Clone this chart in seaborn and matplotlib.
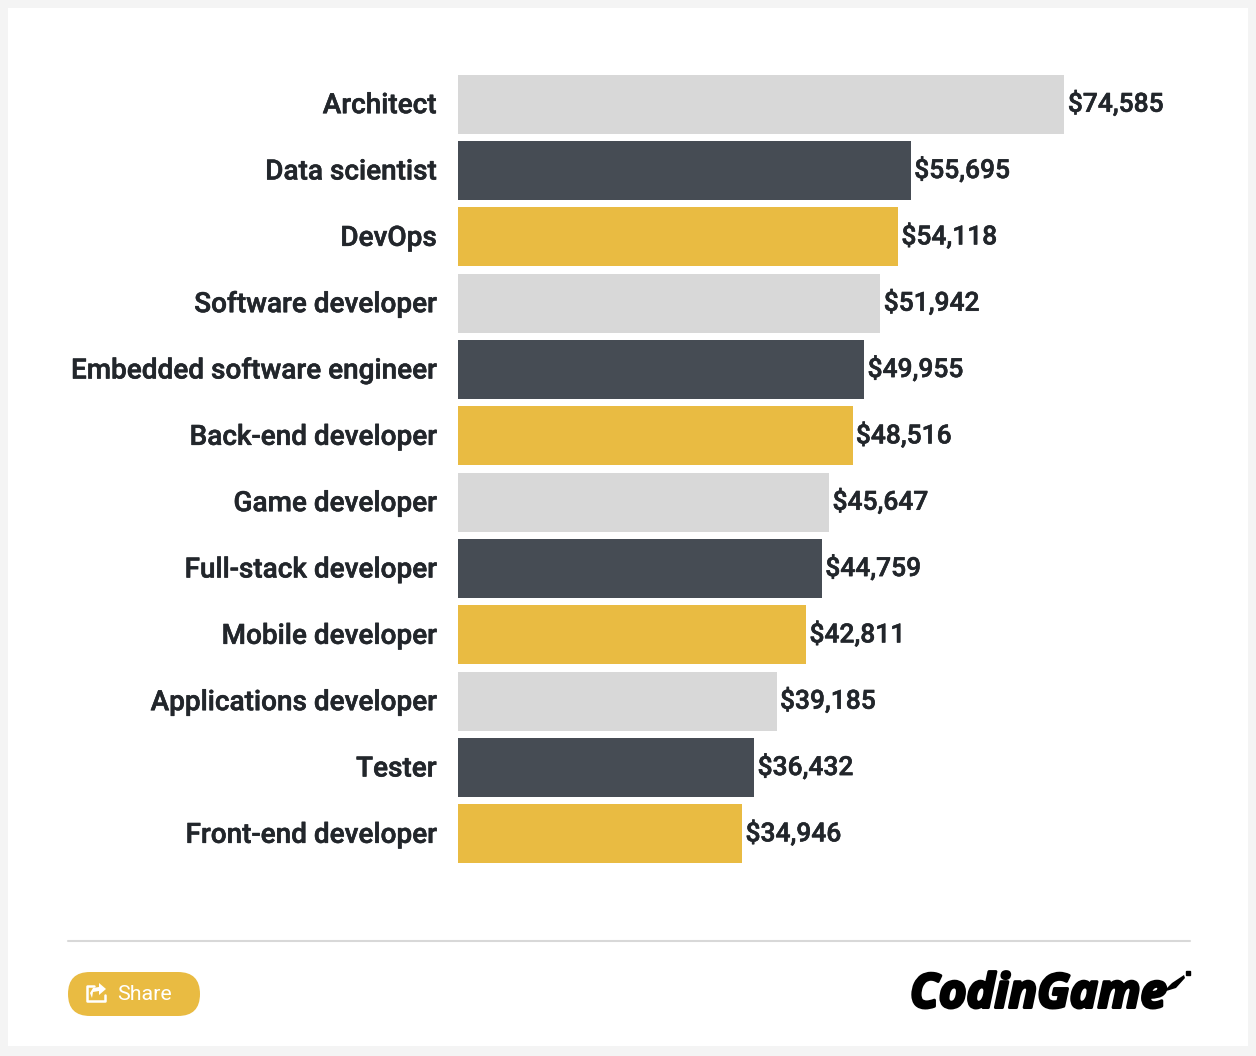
import matplotlib
matplotlib.use("Agg")
import matplotlib.pyplot as plt
import matplotlib.patheffects as pe
from matplotlib.patches import FancyBboxPatch, Polygon, Rectangle
from matplotlib.transforms import ScaledTranslation
import pandas as pd
import seaborn as sns

roles = ["Architect", "Data scientist", "DevOps", "Software developer",
         "Embedded software engineer", "Back-end developer", "Game developer",
         "Full-stack developer", "Mobile developer", "Applications developer",
         "Tester", "Front-end developer"]
salaries = [74585, 55695, 54118, 51942, 49955, 48516, 45647, 44759, 42811, 39185, 36432, 34946]
bar_colors = ["#d8d8d8", "#464c54", "#e9bb42"] * 4

W, H = 1256, 1056
TEXT = "#22262b"

sns.set_theme(style="white")
plt.rcParams["font.family"] = ["Roboto", "DejaVu Sans"]

df = pd.DataFrame({"role": roles, "salary": salaries})

fig = plt.figure(figsize=(W / 100, H / 100), dpi=100, facecolor="#f4f4f4")

# page furniture, drawn in pixel coordinates
bg = fig.add_axes([0, 0, 1, 1], zorder=0)
bg.set_xlim(0, W)
bg.set_ylim(H, 0)
bg.axis("off")
bg.add_patch(Rectangle((8, 8), 1240, 1038, fc="white", ec="none"))
bg.plot([68, 1190], [941, 941], color="#d8d8d8", lw=1.5)
bg.add_patch(FancyBboxPatch((68, 972), 132, 44, boxstyle="round,pad=0,rounding_size=22",
                            fc="#e9bb42", ec="none"))
bg.text(117, 994, "Share", color="white", fontsize=15.4, va="center", ha="left")
# share icon
bg.plot([94, 87, 87, 105, 105], [986, 986, 1001, 1001, 995], color="white", lw=1.8,
        solid_joinstyle="round")
bg.add_patch(Polygon([[99, 983], [106, 989], [99, 995], [99, 991], [93, 992], [92, 998],
                      [90, 993], [93, 988], [99, 987]], fc="white", ec="none"))
# logo
bg.text(910, 995, "CodinGame", color="black", fontsize=34, family="Open Sans",
        weight="bold", style="italic", va="center", ha="left",
        path_effects=[pe.withStroke(linewidth=2.2, foreground="black")])
bg.add_patch(Polygon([[1163, 992], [1172, 983], [1184, 975], [1185, 978], [1176, 988]],
                     fc="black", ec="none"))
bg.plot([1188], [973], "s", color="black", ms=2.2)

# chart area: bars from x=458, twelve rows between y=71 and y=867
ax = fig.add_axes([458 / W, 1 - 867 / H, 732 / W, 796 / H], zorder=1)
ax.patch.set_visible(False)
sns.barplot(data=df, x="salary", y="role", hue="role", palette=bar_colors,
            width=0.89, saturation=1, legend=False, linewidth=0, ax=ax)
ax.set_xlim(0, 732 / 606.5 * salaries[0])
ax.set_ylim(11.5, -0.5)
ax.set_xlabel("")
ax.set_ylabel("")
ax.set_xticks([])
ax.tick_params(axis="y", length=0, pad=15.5)
up = ScaledTranslation(0, 1.5 / 100, fig.dpi_scale_trans)
# Roboto medium looks a touch light next to the reference, so thicken it slightly
thicker = [pe.withStroke(linewidth=0.4, foreground=TEXT)]
for lab in ax.get_yticklabels():
    lab.set_fontsize(20.1)
    lab.set_fontweight(500)
    lab.set_color(TEXT)
    lab.set_path_effects(thicker)
    lab.set_transform(lab.get_transform() + up)
for spine in ax.spines.values():
    spine.set_visible(False)
for cont in ax.containers:
    ax.bar_label(cont, fmt="${:,.0f}", padding=2.4, fontsize=19, fontweight=500, color=TEXT,
                 path_effects=thicker)

fig.savefig("out.png", dpi=100, facecolor=fig.get_facecolor())
